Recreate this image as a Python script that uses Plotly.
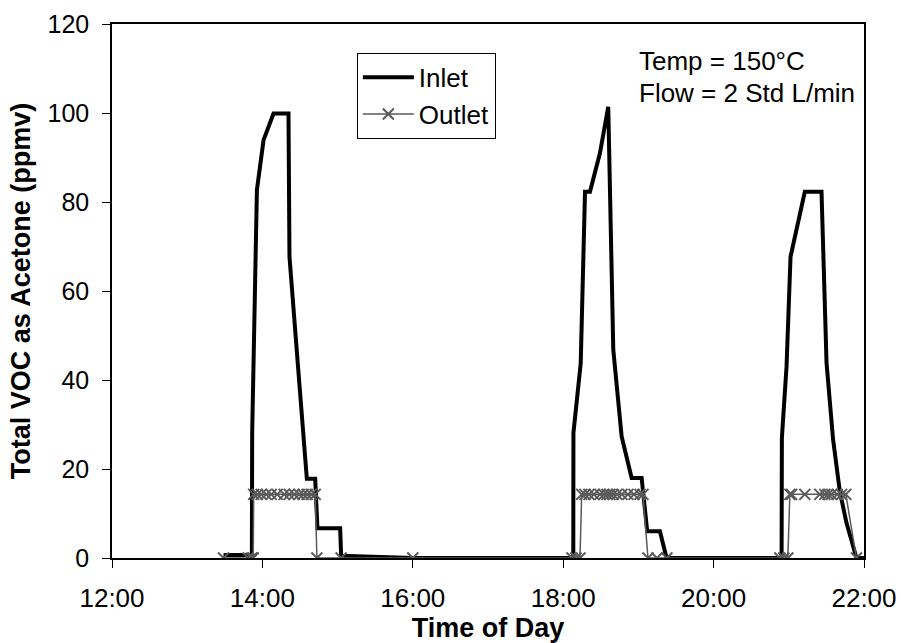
import plotly.graph_objects as go

# ---- data (time in hours of day, values in ppmv) ----
inlet_time = [13.483, 13.860, 13.864, 13.904, 13.927, 14.015, 14.148, 14.347, 14.360, 14.469,
              14.591, 14.702, 14.732, 15.034, 15.047, 16.0,
              18.134, 18.136, 18.233, 18.290, 18.356, 18.489, 18.599, 18.666, 18.777, 18.910,
              19.043, 19.117, 19.286, 19.375,
              20.904, 20.908, 20.970, 21.023, 21.213, 21.435, 21.502, 21.589, 21.678, 21.767,
              21.900, 22.0]
inlet_vals = [0.7, 0.7, 28, 67.7, 82.7, 93.9, 99.9, 99.9, 67.7, 44,
              17.8, 17.8, 6.7, 6.7, 0.5, 0,
              0, 28.1, 43.8, 82.3, 82.3, 91, 101.4, 46.8, 27.3, 18,
              18, 6, 6, 0,
              0, 27, 43, 67.7, 82.3, 82.3, 43.8, 26.6, 15, 7.9,
              0, 0]

outlet_time = [13.483, 13.811, 13.858, 13.878,
               13.884, 13.931, 13.984, 14.051, 14.117, 14.197, 14.290, 14.356, 14.423, 14.489,
               14.542, 14.595, 14.649, 14.702,
               14.725, 15.047, 16.0,
               18.117, 18.170, 18.223,
               18.246, 18.290, 18.343, 18.409, 18.489, 18.542, 18.582, 18.622, 18.662, 18.715,
               18.781, 18.861, 18.941, 19.021, 19.061,
               19.127, 19.247, 19.379,
               20.881, 20.934, 20.987,
               21.014, 21.037, 21.213, 21.413, 21.479, 21.523, 21.568, 21.643, 21.701, 21.758,
               21.900]
outlet_vals = [0, 0, 0, 0,
               14.3, 14.3, 14.3, 14.3, 14.3, 14.3, 14.3, 14.3, 14.3, 14.3,
               14.3, 14.3, 14.3, 14.3,
               0, 0, 0,
               0, 0, 0,
               14.3, 14.3, 14.3, 14.3, 14.3, 14.3, 14.3, 14.3, 14.3, 14.3,
               14.3, 14.3, 14.3, 14.3, 14.3,
               0, 0, 0,
               0, 0, 0,
               14.3, 14.3, 14.3, 14.3, 14.3, 14.3, 14.3, 14.3, 14.3, 14.3,
               0]

x_tick_vals = [12, 14, 16, 18, 20, 22]
x_tick_text = ["12:00", "14:00", "16:00", "18:00", "20:00", "22:00"]
y_tick_vals = [0, 20, 40, 60, 80, 100, 120]

FONT = "Liberation Sans, Arial, sans-serif"

fig = go.Figure()
fig.add_trace(go.Scatter(x=inlet_time, y=inlet_vals, mode="lines", name="Inlet",
                         line=dict(color="black", width=4)))
fig.add_trace(go.Scatter(x=outlet_time, y=outlet_vals, mode="lines+markers", name="Outlet",
                         line=dict(color="#5a5a5a", width=1.5),
                         marker=dict(symbol="x-thin-open", size=11,
                                     line=dict(color="#5a5a5a", width=2))))

axis_common = dict(showgrid=False, zeroline=False, linecolor="black", linewidth=1.5,
                   tickcolor="black", tickwidth=1.2, ticklen=8)

fig.update_layout(
    width=901, height=643,
    margin=dict(l=112, r=37, t=24, b=85, autoexpand=False),
    paper_bgcolor="white", plot_bgcolor="white",
    font=dict(family=FONT, size=25, color="black"),
    xaxis=dict(range=[12, 22], tickvals=x_tick_vals, ticktext=x_tick_text,
               ticks="outside", mirror=True, ticklabelstandoff=8,
               tickfont=dict(size=26),
               title=dict(text="<b>Time of Day</b>", font=dict(size=27), standoff=7),
               **axis_common),
    yaxis=dict(range=[0, 120], tickvals=y_tick_vals, ticks="outside", mirror=True,
               ticklabelstandoff=8, tickfont=dict(size=25),
               title=dict(text="<b>Total VOC as Acetone (ppmv)</b>", font=dict(size=27), standoff=9),
               **axis_common),
    xaxis2=dict(range=[12, 22], overlaying="x", anchor="y", tickvals=x_tick_vals,
                ticks="inside", showticklabels=False, showline=False, showgrid=False,
                zeroline=False, tickcolor="black", tickwidth=1.2, ticklen=8),
    yaxis2=dict(range=[0, 120], overlaying="y", anchor="x", tickvals=y_tick_vals,
                ticks="inside", showticklabels=False, showline=False, showgrid=False,
                zeroline=False, tickcolor="black", tickwidth=1.2, ticklen=8),
    legend=dict(x=0.3256, y=0.946, xanchor="left", yanchor="top",
                bgcolor="white", bordercolor="black", borderwidth=1,
                font=dict(size=26), tracegroupgap=0, itemwidth=51),
    showlegend=True,
)

fig.add_annotation(x=0.698, y=0.931, xref="paper", yref="paper",
                   text="Temp = 150°C", showarrow=False, xanchor="left", yanchor="middle",
                   font=dict(size=26))
fig.add_annotation(x=0.698, y=0.871, xref="paper", yref="paper",
                   text="Flow = 2 Std L/min", showarrow=False, xanchor="left", yanchor="middle",
                   font=dict(size=26))

# remove the default 8px page margin so the figure fills the 901x643 window exactly
fig.write_html("out.html", config={"displayModeBar": False},
               post_script="document.body.style.margin='0';")
